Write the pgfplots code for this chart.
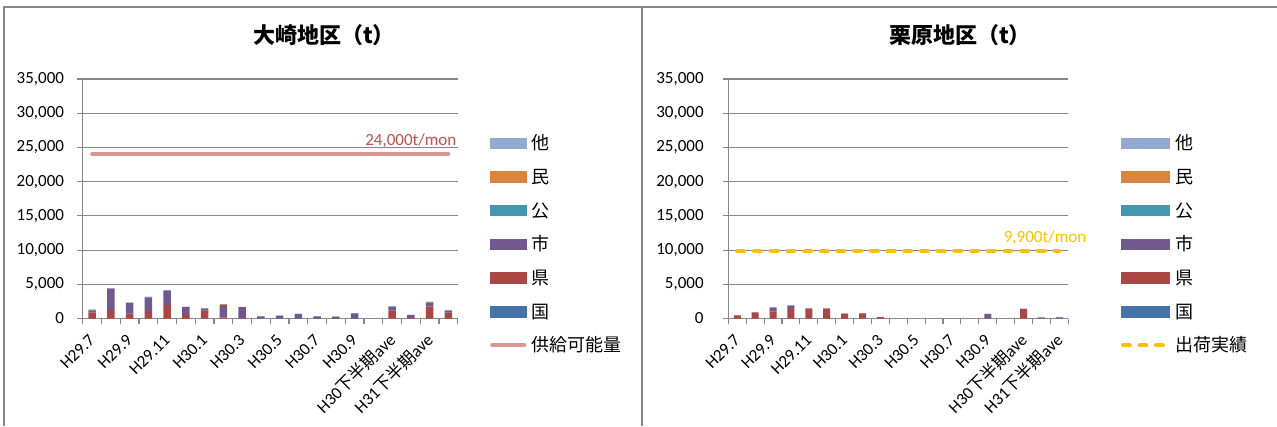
\documentclass[border=0pt]{standalone}
\usepackage{pgfplots}
\usepackage{pgfplotstable}
\pgfplotsset{compat=1.18}
\usepackage{fontspec}
\setmainfont{Carlito}
\newfontfamily\cjk{Noto Sans CJK JP}

\definecolor{cKuni}{HTML}{4572A7}
\definecolor{cKen}{HTML}{AA4643}
\definecolor{cShi}{HTML}{71588F}
\definecolor{cKo}{HTML}{4198AF}
\definecolor{cMin}{HTML}{DB843D}
\definecolor{cTa}{HTML}{93A9CF}
\definecolor{cSup}{HTML}{D99694}
\definecolor{cSupTxt}{HTML}{C0504D}
\definecolor{cShip}{HTML}{FFC000}
\definecolor{cAxis}{HTML}{878787}

% 大崎地区
\pgfplotstableread{
x kuni ken shi ko min ta sup
0 0 900 300 0 0 150 24000
1 0 1250 3100 0 0 100 24000
2 0 750 1500 0 0 100 24000
3 0 1100 2000 0 0 100 24000
4 0 1950 2100 0 0 100 24000
5 0 650 1000 0 0 100 24000
6 0 1150 250 0 0 100 24000
7 0 150 1800 0 150 0 24000
8 0 50 1600 0 0 50 24000
9 0 0 300 0 0 50 24000
10 0 0 400 0 0 50 24000
11 0 0 650 0 0 50 24000
12 0 0 300 0 0 50 24000
13 0 0 250 0 0 50 24000
14 0 0 750 0 0 50 24000
15 0 0 0 0 0 0 24000
16 0 1150 500 0 0 150 24000
17 0 100 400 0 0 50 24000
18 0 1750 600 0 0 100 24000
19 0 850 300 0 0 100 24000
}\osaki

% 栗原地区
\pgfplotstableread{
x kuni ken shi ko min ta ship
0 0 450 0 0 0 50 9900
1 0 900 0 0 0 50 9900
2 0 1050 550 0 0 100 9900
3 0 1400 500 0 0 50 9900
4 0 1450 0 0 0 50 9900
5 0 1450 0 0 0 50 9900
6 0 700 0 0 0 50 9900
7 0 750 0 0 0 50 9900
8 0 200 0 0 0 50 9900
9 0 0 0 0 0 0 9900
10 0 0 0 0 0 0 9900
11 0 0 0 0 0 0 9900
12 0 0 0 0 0 0 9900
13 0 0 0 0 0 0 9900
14 0 0 650 0 0 50 9900
15 0 0 0 0 0 0 9900
16 0 1400 0 0 0 50 9900
17 0 0 100 0 0 100 9900
18 0 0 150 0 0 100 9900
}\kurihara

\pgfplotsset{
  sw/.style 2 args={legend image code/.code={\fill[#1] (0pt,1.5pt) rectangle (#2,12pt);}},
  panel/.style={
    scale only axis, height=239.5pt,
    ybar stacked,
    ymin=0, ymax=35000, ytick={0,5000,...,35000},
    xmin=-0.5,
    axis x line*=bottom, axis y line*=left,
    axis line style={cAxis, line width=1.3pt, -},
    ymajorgrids, grid style={cAxis, line width=1.1pt},
    tick align=outside, major tick length=5.5pt, minor tick length=5.5pt,
    tick style={cAxis, line width=1.1pt},
    major x tick style={draw=none},
    xtick={0,2,...,18},
    xticklabels={H29.7,H29.9,H29.11,H30.1,H30.3,H30.5,H30.7,H30.9,H30{\cjk 下半期}ave,H31{\cjk 下半期}ave},
    xticklabel style={font=\fontsize{17}{20}\selectfont, yshift=-13pt, rotate=45, anchor=east, inner sep=0pt},
    yticklabel style={font=\fontsize{17}{20}\selectfont, anchor=east, inner sep=0pt},
    /pgf/number format/1000 sep={,},
    /pgf/number format/assume math mode=true,
    scaled y ticks=false,
    clip=false,
    title style={font=\cjk\bfseries\fontsize{22}{26}\selectfont, anchor=center},
    legend style={draw=none, fill=none, inner sep=0pt, outer sep=0pt,
      row sep=15pt, column sep=5pt, anchor=north west, legend cell align=left,
      nodes={inner sep=0pt, text height=13pt, text depth=5.7pt, anchor=base west,
        font=\cjk\fontsize{18}{20}\selectfont}},
  },
}

\begin{document}
\begin{tikzpicture}[x=1pt,y=1pt]
\useasboundingbox (0,0) rectangle (1277,426);
\draw[cAxis, line width=1.5pt] (4,0) -- (4,419) -- (1277,419);
\draw[cAxis, line width=1.5pt] (642,0) -- (642,419);

\begin{axis}[panel, width=375pt, at={(82.7pt,107.5pt)}, anchor=south west,
    xmax=19.5, minor xtick={-0.5,0.5,...,19.5}, bar width=7.5pt,
    title={大崎地区（t）},
    title style={at={(axis description cs:0.6435,1.1587)}},
    yticklabel style={xshift=-13pt},
    legend style={at={(axis description cs:1.0861,0.7587)}}]
  \addlegendimage{sw={cTa}{36pt}}\addlegendentry{他}
  \addlegendimage{sw={cMin}{36pt}}\addlegendentry{民}
  \addlegendimage{sw={cKo}{36pt}}\addlegendentry{公}
  \addlegendimage{sw={cShi}{36pt}}\addlegendentry{市}
  \addlegendimage{sw={cKen}{36pt}}\addlegendentry{県}
  \addlegendimage{sw={cKuni}{36pt}}\addlegendentry{国}
  \addlegendimage{legend image code/.code={\draw[cSup, line width=4pt, line cap=round] (2pt,6.8pt) -- (34pt,6.8pt);}}
  \addlegendentry{供給可能量}
  \addplot[fill=cKuni, draw=none, forget plot] table[x=x, y=kuni]{\osaki};
  \addplot[fill=cKen, draw=none, forget plot] table[x=x, y=ken]{\osaki};
  \addplot[fill=cShi, draw=none, forget plot] table[x=x, y=shi]{\osaki};
  \addplot[fill=cKo, draw=none, forget plot] table[x=x, y=ko]{\osaki};
  \addplot[fill=cMin, draw=none, forget plot] table[x=x, y=min]{\osaki};
  \addplot[fill=cTa, draw=none, forget plot] table[x=x, y=ta]{\osaki};
  \addplot[sharp plot, stack plots=false, cSup, line width=4pt, line cap=round, forget plot] table[x=x, y=sup]{\osaki};
  \node[cSupTxt, anchor=base, font=\fontsize{17}{20}\selectfont, yshift=8.6pt] at (axis cs:17,24000) {24,000t/mon};
\end{axis}

\begin{axis}[panel, width=340pt, at={(728.3pt,107.5pt)}, anchor=south west,
    xmax=18.5, minor xtick={-0.5,0.5,...,18.5}, bar width=7pt,
    title={栗原地区（t）},
    title style={at={(axis description cs:0.6815,1.1587)}},
    yticklabel style={xshift=-19pt},
    legend style={at={(axis description cs:1.1541,0.7587)}, column sep=6pt}]
  \addlegendimage{sw={cTa}{48pt}}\addlegendentry{他}
  \addlegendimage{sw={cMin}{48pt}}\addlegendentry{民}
  \addlegendimage{sw={cKo}{48pt}}\addlegendentry{公}
  \addlegendimage{sw={cShi}{48pt}}\addlegendentry{市}
  \addlegendimage{sw={cKen}{48pt}}\addlegendentry{県}
  \addlegendimage{sw={cKuni}{48pt}}\addlegendentry{国}
  \addlegendimage{legend image code/.code={\draw[cShip, line width=4pt, line cap=round, dash pattern=on 7pt off 9.5pt] (2pt,6.8pt) -- (46pt,6.8pt);}}
  \addlegendentry{出荷実績}
  \addplot[fill=cKuni, draw=none, forget plot] table[x=x, y=kuni]{\kurihara};
  \addplot[fill=cKen, draw=none, forget plot] table[x=x, y=ken]{\kurihara};
  \addplot[fill=cShi, draw=none, forget plot] table[x=x, y=shi]{\kurihara};
  \addplot[fill=cKo, draw=none, forget plot] table[x=x, y=ko]{\kurihara};
  \addplot[fill=cMin, draw=none, forget plot] table[x=x, y=min]{\kurihara};
  \addplot[fill=cTa, draw=none, forget plot] table[x=x, y=ta]{\kurihara};
  \addplot[sharp plot, stack plots=false, cShip, line width=4pt, line cap=round, dash pattern=on 7pt off 9.7pt, forget plot] table[x=x, y=ship]{\kurihara};
  \node[cShip, anchor=base, font=\fontsize{17}{20}\selectfont, yshift=8.6pt] at (axis cs:17.2,9900) {9,900t/mon};
\end{axis}
\end{tikzpicture}
\end{document}
